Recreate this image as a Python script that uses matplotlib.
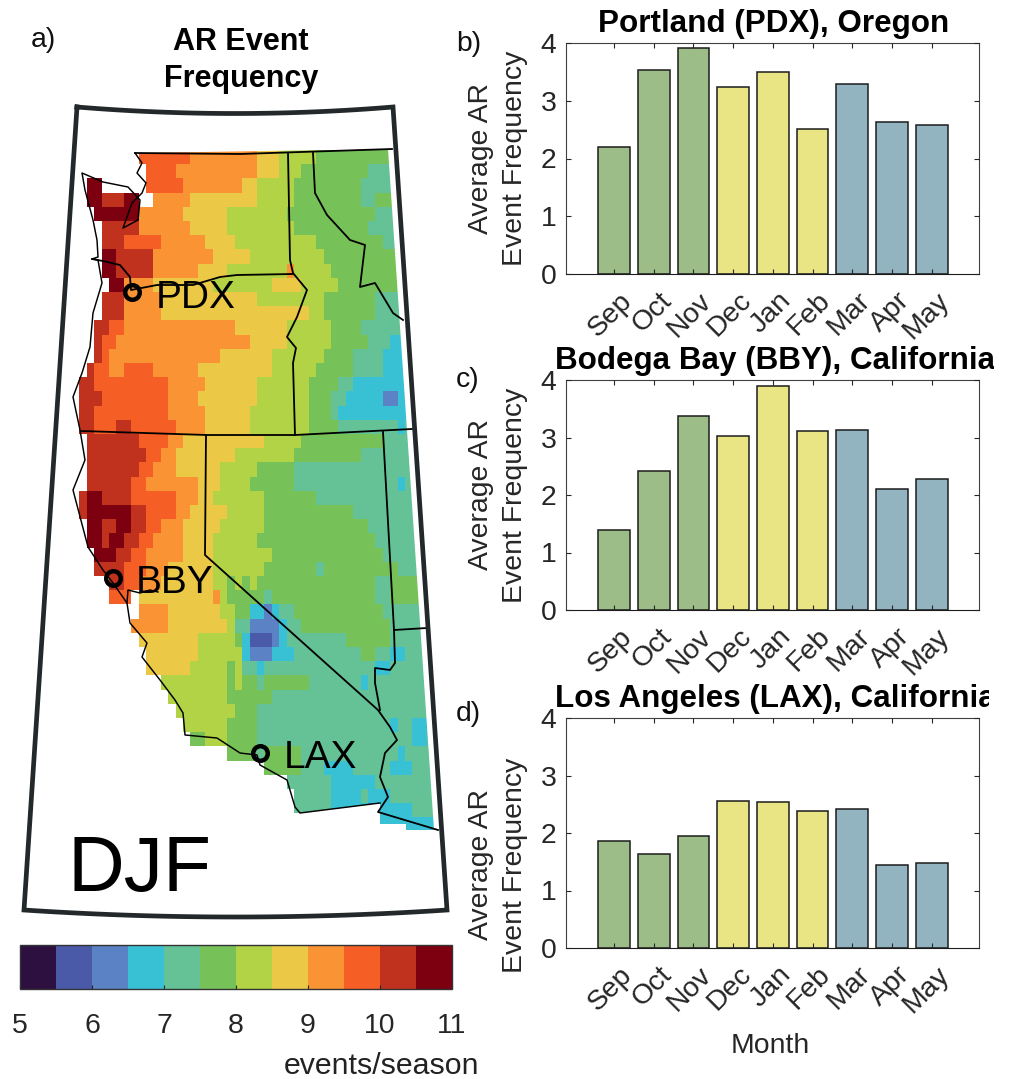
import numpy as np
import matplotlib
matplotlib.use("Agg")
from matplotlib import pyplot as plt
from matplotlib.colors import ListedColormap, BoundaryNorm
from matplotlib.colorbar import ColorbarBase
from matplotlib.patches import Polygon
from matplotlib.transforms import Bbox, ScaledTranslation

plt.rcParams['font.family'] = ['Liberation Sans', 'DejaVu Sans']

W, H = 1011, 1079

months = ['Sep', 'Oct', 'Nov', 'Dec', 'Jan', 'Feb', 'Mar', 'Apr', 'May']
pdx_freq = [2.20, 3.53, 3.92, 3.245, 3.49, 2.51, 3.29, 2.63, 2.58]
bby_freq = [1.39, 2.42, 3.38, 3.03, 3.89, 3.11, 3.13, 2.10, 2.28]
lax_freq = [1.855, 1.635, 1.95, 2.56, 2.54, 2.39, 2.42, 1.44, 1.485]
season_colors = ['#9dbd88'] * 3 + ['#e9e585'] * 3 + ['#92b3c0'] * 3

# colour classes, half an event wide
level_edges = [5, 5.5, 6, 6.5, 7, 7.5, 8, 8.5, 9, 9.5, 10, 10.5, 11]
level_colors = ['#2d103f', '#4a5aa8', '#5a82c4', '#38c1d5', '#64c296', '#76c158',
                '#b1d345', '#ebc846', '#f99333', '#f55e25', '#c0311e', '#7c000f']
level_names = 'abcdefghijkl'

# map rows north to south, letter + run length, _ is no data
map_rows = [
    "_9 j7 i9 h3 g5 f99",
    "_10 j4 i11 h3 g3 f9 e99",
    "_2 l2 _6 j5 i8 h2 g5 f9 e99",
    "_2 l2 k3 l2 _2 i5 h9 g5 f9 e2 f99",
    "_3 l6 i6 h6 g8 f12 e99",
    "_4 k5 i7 h5 g9 f10 e99",
    "_4 k3 j5 i6 h4 g11 f9 e99",
    "_4 l2 k5 i8 h5 g10 f99",
    "_4 l2 k5 i6 h4 g8 i1 g5 f99",
    "_5 l2 i4 h8 g8 h4 g5 f99",
    "_4 k3 i5 h13 g9 f7 e99",
    "_4 k3 i5 h20 g2 f7 e99",
    "_3 k2 j2 i15 h7 g6 f4 e99",
    "_3 k1 j2 i18 h5 g6 f5 e3 d99",
    "_3 k1 j1 i15 h7 g7 f4 e4 d99",
    "_2 k1 j2 i2 j4 i6 h10 g6 f5 e4 d99",
    "_1 k2 j10 i5 h7 g7 f4 e2 d99",
    "_1 k3 j9 i4 h8 g7 f3 e2 d5 c2 d99",
    "_1 k2 j10 i5 h6 g8 f3 e1 d99",
    "_1 k2 j3 k2 j6 i4 h6 g8 f4 e8 d1 e99",
    "_2 k7 j4 i2 h11 g5 f11 e99",
    "_2 k8 j2 i2 h8 g8 f9 e99",
    "_2 k7 j2 i3 h6 g5 f5 e99",
    "_2 k6 j2 i7 h3 g4 f6 e14 d1 e99",
    "_1 k1 l2 k4 j6 i3 h2 g7 f7 e99",
    "_1 k1 l6 k2 j4 i2 h5 g5 f12 e99",
    "_2 l2 k2 l2 k2 j2 i3 h5 g6 f14 e99",
    "_2 l2 k1 l2 k2 j2 i4 h4 g6 f16 e99",
    "_3 l3 k2 j2 i5 h4 g8 f15 e99",
    "_3 k4 j3 i3 h6 g7 f7 e1 f10 e99",
    "_5 k2 j2 i3 h7 g2 f1 g1 f1 g1 f16 e2 f99",
    "_5 j3 _1 h10 i1 g1 f5 e1 f14 e2 f99",
    "_9 i4 h7 g2 f2 d2 c1 d1 e2 f12 e99",
    "_8 i5 h8 g1 e2 c4 d1 e2 f12 e99",
    "_9 h8 g5 f1 d1 b3 c1 d1 e8 f6 e99",
    "_10 h7 g6 d1 c3 d3 e9 f2 e2 d2 e99",
    "_10 h6 g5 f1 g1 e2 d1 e15 d2 e99",
    "_12 g9 f1 g1 f2 e1 f6 e7 d1 e99",
    "_13 g8 f6 e99",
    "_14 g8 f3 e99",
    "_15 g6 f4 e18 d1 e2 d2 e99",
    "_16 f2 g3 f4 e21 d2 e99",
    "_21 f4 e1 f5 e13 d1 e99",
    "_26 f5 e3 d4 e5 d3 e99",
    "_29 e6 d6 e99",
    "_30 e5 d4 e1 d3 e99",
    "_30 e5 d5 c1 d5 e99",
    "_41 d99",
]

# outlines, in picture pixels
coast = [(135, 153), (142, 163), (137, 173), (146, 183), (142, 193), (132, 203), (127, 217),
         (123, 228), (138, 220), (140, 200), (128, 187), (103, 182), (82, 173), (85, 190),
         (93, 220), (97, 240), (98, 257), (92, 259), (98, 260), (102, 283), (93, 313),
         (90, 347), (82, 373), (73, 397), (80, 430), (85, 460), (73, 490), (88, 547),
         (103, 570), (113, 583), (127, 603), (130, 623), (147, 643), (142, 657), (160, 680),
         (175, 700), (183, 713), (185, 735), (217, 738), (240, 753), (257, 755), (260, 765),
         (287, 780), (295, 807), (300, 813), (380, 803)]
sf_bay = [(127, 603), (128, 590), (140, 593), (150, 590), (158, 592)]
columbia = [(92, 259), (103, 261), (120, 265), (130, 277), (131, 290), (157, 285), (193, 285),
            (220, 277), (237, 275), (293, 274)]
canada_line = [(135, 153), (240, 154), (392, 149)]
wa_id = [(288, 153), (290, 260), (293, 273), (307, 290), (297, 317), (287, 337), (296, 348),
         (293, 363), (295, 435)]
id_mt = [(313, 153), (315, 193), (327, 215), (350, 240), (365, 245), (360, 287), (375, 283),
         (393, 313), (403, 320)]
north_ca = [(82, 431), (207, 435), (295, 435), (412, 429)]
ca_nv = [(206, 435), (205, 555), (378, 710), (390, 727), (397, 740), (385, 753), (380, 777),
         (388, 797), (378, 812), (438, 830)]
nv_ut = [(383, 432), (394, 630), (395, 663), (390, 670), (375, 668), (375, 683), (380, 710)]
ut_az = [(394, 630), (427, 628)]
state_lines = [columbia, canada_line, wa_id, id_mt, north_ca, ca_nv, nv_ut, ut_az]

stations = {'PDX': (131.7, 292), 'BBY': (113, 578), 'LAX': (260, 753)}
station_text = {'PDX': (156, 308), 'BBY': (136, 593), 'LAX': (284, 768)}


def Rows_To_Grid(rows, n_cols=50):
    grid = np.full((len(rows), n_cols), np.nan)
    mids = dict(zip(level_names, (np.array(level_edges[:-1]) + np.array(level_edges[1:])) / 2))
    for r, row in enumerate(rows):
        c = 0
        for run in row.split():
            n = int(run[1:])
            if run[0] != '_':
                grid[r, c:c + n] = mids[run[0]]
            c += n
    return np.ma.masked_invalid(grid)


def Box(x0, y0, x1, y1):
    return [x0 / W, 1 - y1 / H, (x1 - x0) / W, (y1 - y0) / H]


def Draw_Map(ax, cmap, norm):
    grid = Rows_To_Grid(map_rows)
    x_edges = 72 + 7.4 * np.arange(grid.shape[1] + 1)
    y_edges = 150 + 14.2 * np.arange(grid.shape[0] + 1)
    mesh = ax.pcolormesh(x_edges, y_edges, grid, cmap=cmap, norm=norm, zorder=1)
    clip = Polygon([(60, 154), (142, 153), (388, 149), (434, 830), (406, 830), (406, 824),
                    (380, 824), (380, 803), (300, 813), (60, 813)], transform=ax.transData)
    mesh.set_clip_path(clip)

    for line in [coast, sf_bay]:
        xs, ys = zip(*line)
        ax.plot(xs, ys, color='black', lw=1.05, zorder=2)
    for line in state_lines:
        xs, ys = zip(*line)
        ax.plot(xs, ys, color='black', lw=1.3, zorder=2)

    # frame of the map projection
    frame_x = [77, 235, 393, 447, 235, 24, 77]
    frame_y = [107, 113.5, 107, 910, 917, 910, 107]
    top = np.polyfit(frame_x[:3], frame_y[:3], 2)
    bot = np.polyfit(frame_x[3:6], frame_y[3:6], 2)
    tx = np.linspace(77, 393, 60)
    bx = np.linspace(447, 24, 60)
    ax.plot(np.r_[tx, bx, tx[0]], np.r_[np.polyval(top, tx), np.polyval(bot, bx), np.polyval(top, tx[0])],
            color='#23282b', lw=3.4, solid_joinstyle='miter', zorder=3)

    for name, (x, y) in stations.items():
        ax.plot(x, y, 'o', ms=10.5, mfc='none', mec='black', mew=3.2, zorder=4)
        ax.text(*station_text[name], name, fontsize=28, va='baseline', ha='left', zorder=5)
    ax.text(67, 891, 'DJF', fontsize=56.5, va='baseline', ha='left')


def Draw_Bars(box, values):
    ax = plt.gcf().add_axes(Box(*box))
    x = np.arange(1, 10)
    ax.bar(x, values, width=0.8, color=season_colors, edgecolor='#1c1c1c', linewidth=1.1)
    ax.set_xlim(-0.21, 10.19)
    ax.set_ylim(0, 4)
    ax.set_yticks(range(5))
    ax.set_xticks(x)
    ax.set_xticklabels(months, rotation=45, ha='right', va='top', rotation_mode='anchor')
    ax.set_axisbelow(False)
    ax.tick_params(axis='both', direction='in', length=3.4, width=0.8, color='#262626',
                   top=True, right=True, labelcolor='#262626', labelsize=20.4)
    ax.tick_params(axis='x', pad=9)
    ax.tick_params(axis='y', pad=7)
    # month labels sit a little right of their ticks
    shift = ScaledTranslation(5 / 100, -1 / 100, plt.gcf().dpi_scale_trans)
    for lab in ax.get_xticklabels():
        lab.set_transform(lab.get_transform() + shift)
    for side in ax.spines.values():
        side.set_color('#404040')
        side.set_linewidth(0.8)
    ax.spines['bottom'].set_color('#1c1c1c')
    return ax


fig = plt.figure(figsize=(W / 100, H / 100), dpi=100)

# picture-pixel layer for the map and loose text
base = fig.add_axes([0, 0, 1, 1])
base.set_xlim(0, W)
base.set_ylim(H, 0)
base.axis('off')

cmap = ListedColormap(level_colors)
norm = BoundaryNorm(level_edges, cmap.N)
Draw_Map(base, cmap, norm)

base.text(241, 50, 'AR Event', fontsize=22, fontweight='bold', ha='center', va='baseline')
base.text(241, 87, 'Frequency', fontsize=22, fontweight='bold', ha='center', va='baseline')
base.text(31, 47, 'a)', fontsize=20.4, va='baseline', color='#111111')
base.text(456, 51, 'b)', fontsize=20.4, va='baseline', color='#111111')
base.text(456, 387, 'c)', fontsize=20.4, va='baseline', color='#111111')
base.text(456, 721, 'd)', fontsize=20.4, va='baseline', color='#111111')

# colour bar
cax = fig.add_axes(Box(20, 945, 452, 989))
cb = ColorbarBase(cax, cmap=cmap, norm=norm, orientation='horizontal', spacing='proportional',
                  ticks=[5, 6, 7, 8, 9, 10, 11])
cb.ax.set_xticklabels(['5', '6', '7', '8', '9', '10', '11'])
cb.ax.tick_params(axis='x', direction='in', length=3.2, width=0.8, color='#262626',
                  labelsize=20.4, labelcolor='#262626', pad=17)
cb.ax.minorticks_off()
cb.outline.set_edgecolor('#333333')
cb.outline.set_linewidth(1.0)
base.text(381.5, 1074, 'events/season', fontsize=21.8, ha='center', va='baseline', color='#222222')

panels = [
    ((566, 43, 979, 274), pdx_freq, 'Portland (PDX), Oregon', (773.5, 32), 158, 1011),
    ((566, 380, 979, 610), bby_freq, 'Bodega Bay (BBY), California', (775, 369), 495, 994),
    ((566, 718, 979, 948), lax_freq, 'Los Angeles (LAX), California', (775, 707), 865, 989),
]
for box, values, title, title_xy, label_y, clip_right in panels:
    Draw_Bars(box, values)
    t = base.text(title_xy[0], title_xy[1], title, fontsize=22.6, fontweight='bold',
                  ha='center', va='baseline', zorder=10)
    t.set_clip_on(True)
    t.set_clip_box(Bbox([[0, 0], [clip_right, H]]))
    base.text(481.5, label_y, 'Average AR', fontsize=20.4, rotation=90,
              ha='center', va='center', color='#262626')
    base.text(515.5, label_y, 'Event Frequency', fontsize=20.4, rotation=90,
              ha='center', va='center', color='#262626')
base.text(770, 1053, 'Month', fontsize=20.4, ha='center', va='baseline', color='#262626')

base.set_zorder(5)
base.patch.set_visible(False)
fig.savefig('out.png', dpi=100)
